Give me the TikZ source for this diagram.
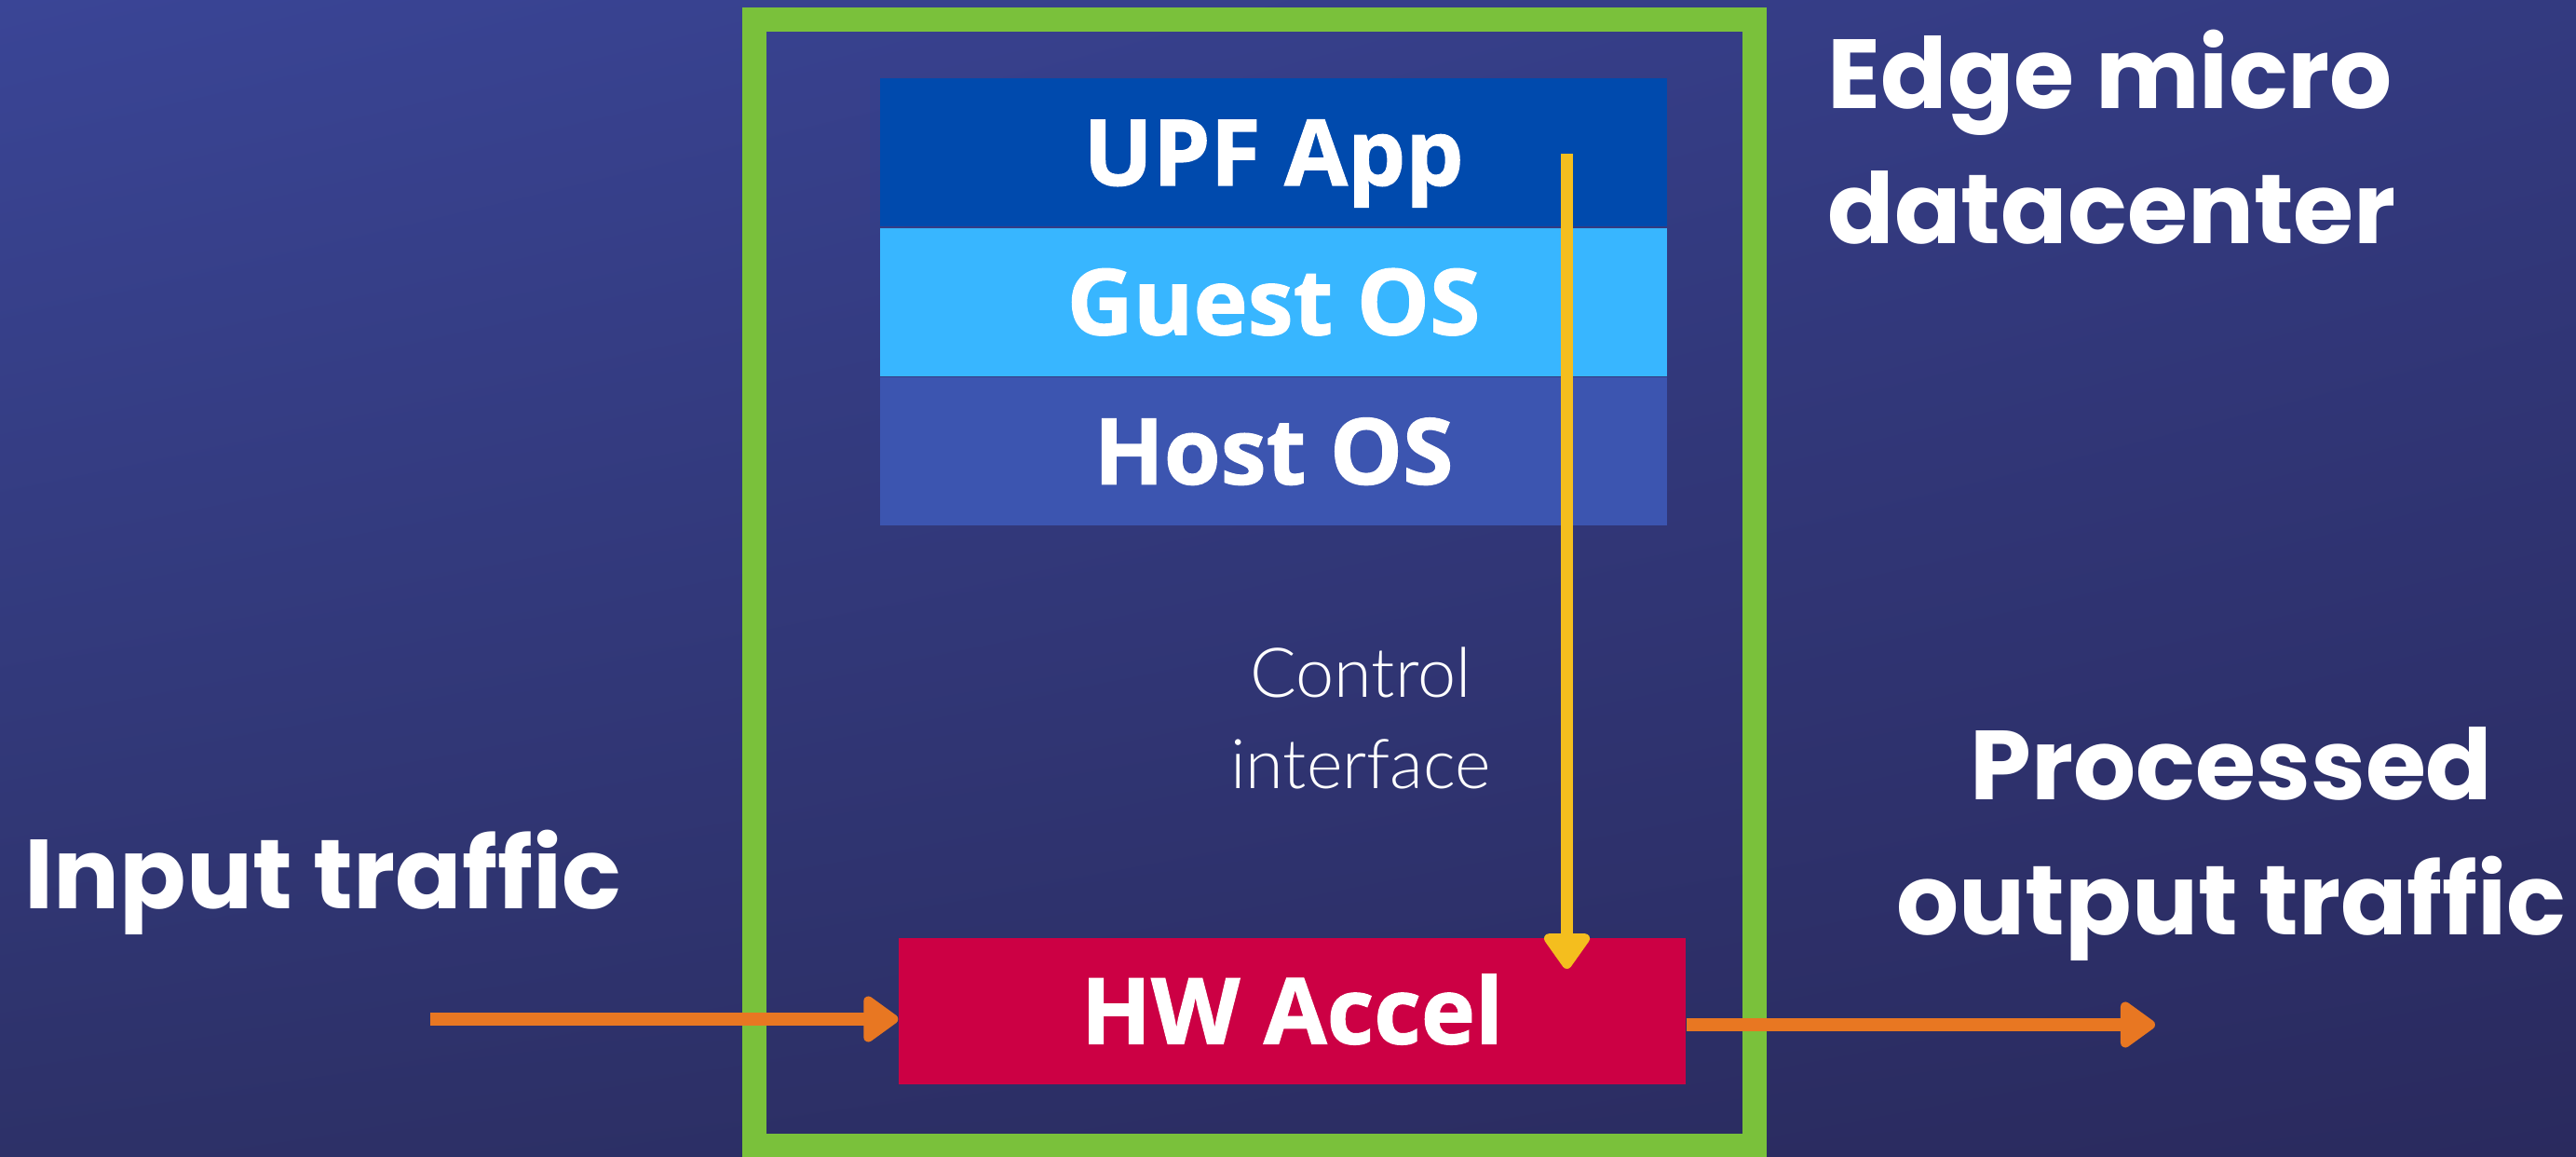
\documentclass[tikz,border=0pt]{standalone}
\usepackage{fontspec}
\setmainfont{Open Sans}
\newfontfamily\layerfont[BoldFeatures={FakeBold=1.2}]{Open Sans}
\newfontfamily\headfont{Poppins}
\newfontfamily\thinfont{Lato Light}
\usetikzlibrary{positioning,arrows.meta,shadings}

\definecolor{bgtl}{HTML}{3A4596}
\definecolor{bgtr}{HTML}{333A80}
\definecolor{bgbl}{HTML}{2D3168}
\definecolor{bgbr}{HTML}{2A2A5E}
\definecolor{frame}{HTML}{7AC13B}
\definecolor{upfblue}{HTML}{004AAD}
\definecolor{guestblue}{HTML}{38B6FF}
\definecolor{hostblue}{HTML}{3C55B0}
\definecolor{accel}{HTML}{CC0044}
\definecolor{ctlline}{HTML}{F4BE1E}
\definecolor{traffic}{HTML}{E87722}

\tikzset{
  layer/.style={rectangle, minimum width=8.45cm, minimum height=1.59cm, inner sep=0pt,
    text height=0.7cm, text depth=0pt,
    text=white, font=\layerfont\bfseries\fontsize{28}{30}\selectfont},
  bigtext/.style={text=white, inner sep=0pt, font=\headfont\bfseries\fontsize{30}{41.4}\selectfont},
  flow/.style={draw=traffic, line width=0.14cm, -{Triangle[round, length=0.41cm, width=0.56cm]}},
  ctl/.style={draw=ctlline, line width=0.135cm, -{Triangle[round, length=0.42cm, width=0.56cm]}}
}

\begin{document}
\begin{tikzpicture}
  \useasboundingbox (0,0) rectangle (27.66,12.42);
  \shade[upper left=bgtl, upper right=bgtr, lower left=bgbl, lower right=bgbr]
    (0,0) rectangle (27.66,12.42);

  \node[draw=frame, line width=0.26cm, minimum width=10.74cm, minimum height=12.09cm,
        inner sep=0pt] (dc) at (13.47,6.165) {};

  \node[layer, fill=upfblue] (upf) at (13.675,10.78) {UPF App};
  \node[layer, fill=guestblue, below=0cm of upf] (guest) {Guest OS};
  \node[layer, fill=hostblue, below=0cm of guest] (host) {Host OS};

  \node[layer, fill=accel, minimum height=1.57cm] (hw) at (13.875,1.565) {HW Accel};

  \node[bigtext, anchor=west, align=left] (edge) at (19.62,10.95) {Edge micro\\datacenter};
  \node[bigtext, anchor=west] (input) at (0.26,2.95) {Input traffic};
  \node[bigtext, align=center] (output) at (23.96,3.36) {Processed\\output traffic};
  \node[text=white, inner sep=0pt, align=center, font=\thinfont\fontsize{21}{28}\selectfont]
    (ctltext) at (14.61,4.71) {Control\\interface};

  \coordinate (ctltop) at (16.825,10.77);
  \coordinate (ctlend) at (16.825,2.02);
  \draw[ctl] (ctltop) -- (ctlend);

  \coordinate (inA) at (4.62,1.48);
  \coordinate (outB) at (23.14,1.42);
  \draw[flow] (inA) -- (inA -| hw.west);
  \draw[flow] (hw.east |- outB) -- (outB);
\end{tikzpicture}
\end{document}
